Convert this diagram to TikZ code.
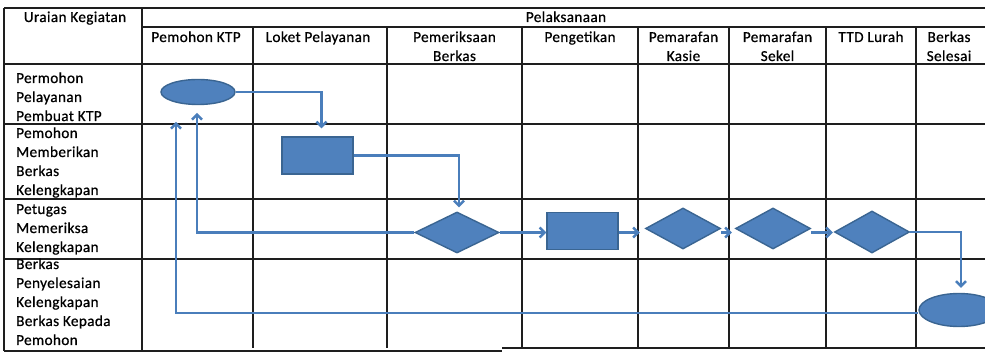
\documentclass[tikz,border=0pt]{standalone}
\usepackage{fontspec}
\setmainfont{Carlito}[FakeBold=0.7,LetterSpace=2.5]
\usetikzlibrary{arrows.meta,shapes.geometric,calc}
\definecolor{shapefill}{HTML}{4F81BD}
\definecolor{shapeline}{HTML}{3A6592}
\definecolor{flowline}{HTML}{4A7EBB}
\definecolor{gridline}{HTML}{1E1E1E}
\newcommand{\cellL}[1]{\begin{tabular}[t]{@{}l@{}}#1\end{tabular}}
\newcommand{\cellC}[1]{\begin{tabular}[t]{@{}c@{}}#1\end{tabular}}
\begin{document}
\begin{tikzpicture}[x=1pt,y=-1pt,
  grid/.style={draw=gridline,line width=1.4pt},
  txt/.style={inner sep=0pt,font=\fontsize{15.2}{19}\selectfont},
  oval/.style={ellipse,draw=shapeline,fill=shapefill,line width=1.4pt,inner sep=0pt},
  box/.style={rectangle,draw=shapeline,fill=shapefill,line width=1.4pt,inner sep=0pt},
  decide/.style={diamond,draw=shapeline,fill=shapefill,line width=1.4pt,inner sep=0pt},
  flow/.style={draw=flowline,line width=2.4pt,-{Straight Barb[length=5pt,width=10pt]}}
]
\useasboundingbox (0,0) rectangle (985,352);
\fill[white] (0,0) rectangle (985,352);

% table grid
\draw[grid] (4,8) -- (985,8);
\draw[grid] (142,27) -- (985,27);
\draw[grid] (4,64) -- (985,64);
\draw[grid] (4,124) -- (985,124);
\draw[grid] (4,199) -- (985,199);
\draw[grid] (4,259) -- (985,259);
\draw[grid] (4,351) -- (502,351);
\draw[grid] (502,348) -- (985,348);
\draw[grid] (4,8) -- (4,351);
\draw[grid] (142,8) -- (142,351);
\foreach \cx in {253,387,522,638,729,826,916} {
  \draw[grid] (\cx,27) -- (\cx,348);
}

% header texts
\node[txt,anchor=base] (hU) at (75,22) {Uraian Kegiatan};
\node[txt,anchor=base] (hP) at (566,22) {Pelaksanaan};
\node[txt,anchor=base] (c1) at (196,42) {Pemohon KTP};
\node[txt,anchor=base] (c2) at (318,42) {Loket Pelayanan};
\node[txt,anchor=base] (c3) at (454.5,42) {\cellC{Pemeriksaan\\Berkas}};
\node[txt,anchor=base] (c4) at (580,42) {Pengetikan};
\node[txt,anchor=base] (c5) at (683.5,42) {\cellC{Pemarafan\\Kasie}};
\node[txt,anchor=base] (c6) at (777.5,42) {\cellC{Pemarafan\\Sekel}};
\node[txt,anchor=base] (c7) at (871,42) {TTD Lurah};
\node[txt,anchor=base] (c8) at (949,42) {\cellC{Berkas\\Selesai}};

% row labels
\node[txt,anchor=base west] (r1l) at (16,83) {\cellL{Permohon\\Pelayanan\\Pembuat KTP}};
\node[txt,anchor=base west] (r2l) at (16,138) {\cellL{Pemohon\\Memberikan\\Berkas\\Kelengkapan}};
\node[txt,anchor=base west] (r3l) at (16,214) {\cellL{Petugas\\Memeriksa\\Kelengkapan}};
\node[txt,anchor=base west] (r4l) at (16,269) {\cellL{Berkas\\Penyelesaian\\Kelengkapan\\Berkas Kepada\\Pemohon}};

% flow shapes
\node[oval,minimum width=74pt,minimum height=25pt] (e1) at (198,92) {};
\node[box,minimum width=71pt,minimum height=37pt] (b1) at (317.5,155.5) {};
\node[decide,minimum width=84pt,minimum height=41pt] (d1) at (457,232.5) {};
\node[box,minimum width=71pt,minimum height=37pt] (b2) at (582.5,231) {};
\node[decide,minimum width=75pt,minimum height=41pt] (d2) at (683,228.5) {};
\node[decide,minimum width=75pt,minimum height=41pt] (d3) at (773,228.5) {};
\node[decide,minimum width=75pt,minimum height=42pt] (d4) at (872,232) {};
\node[oval,minimum width=80pt,minimum height=33pt] (e2) at (959,310) {};

\coordinate (back1) at (176,122);
\coordinate (back2) at (197,113);

% connectors
\draw[flow,shorten >=8pt] (e1.east) -| ([xshift=4pt]b1.north);
\draw[flow,shorten >=4pt] (b1.east) -| ([xshift=2pt]d1.north);
\draw[flow] (d1.east) -- (d1.east -| b2.west);
\draw[flow] ([yshift=-1.5pt]b2.east) -- ([xshift=-5pt,yshift=-1.5pt]b2.east -| d2.west);
\draw[flow] ([yshift=-4pt]d2.east) -- ([xshift=-3pt,yshift=-4pt]d2.east -| d3.west);
\draw[flow] ([yshift=-4pt]d3.east) -- ([xshift=-1pt,yshift=-4pt]d3.east -| d4.west);
\draw[flow,shorten >=5pt] (d4.east) -| ([xshift=2pt]e2.north);
\draw[flow] ([yshift=-3pt]e2.west) -| (back1);
\draw[flow] (d1.west) -| (back2);
\end{tikzpicture}
\end{document}
